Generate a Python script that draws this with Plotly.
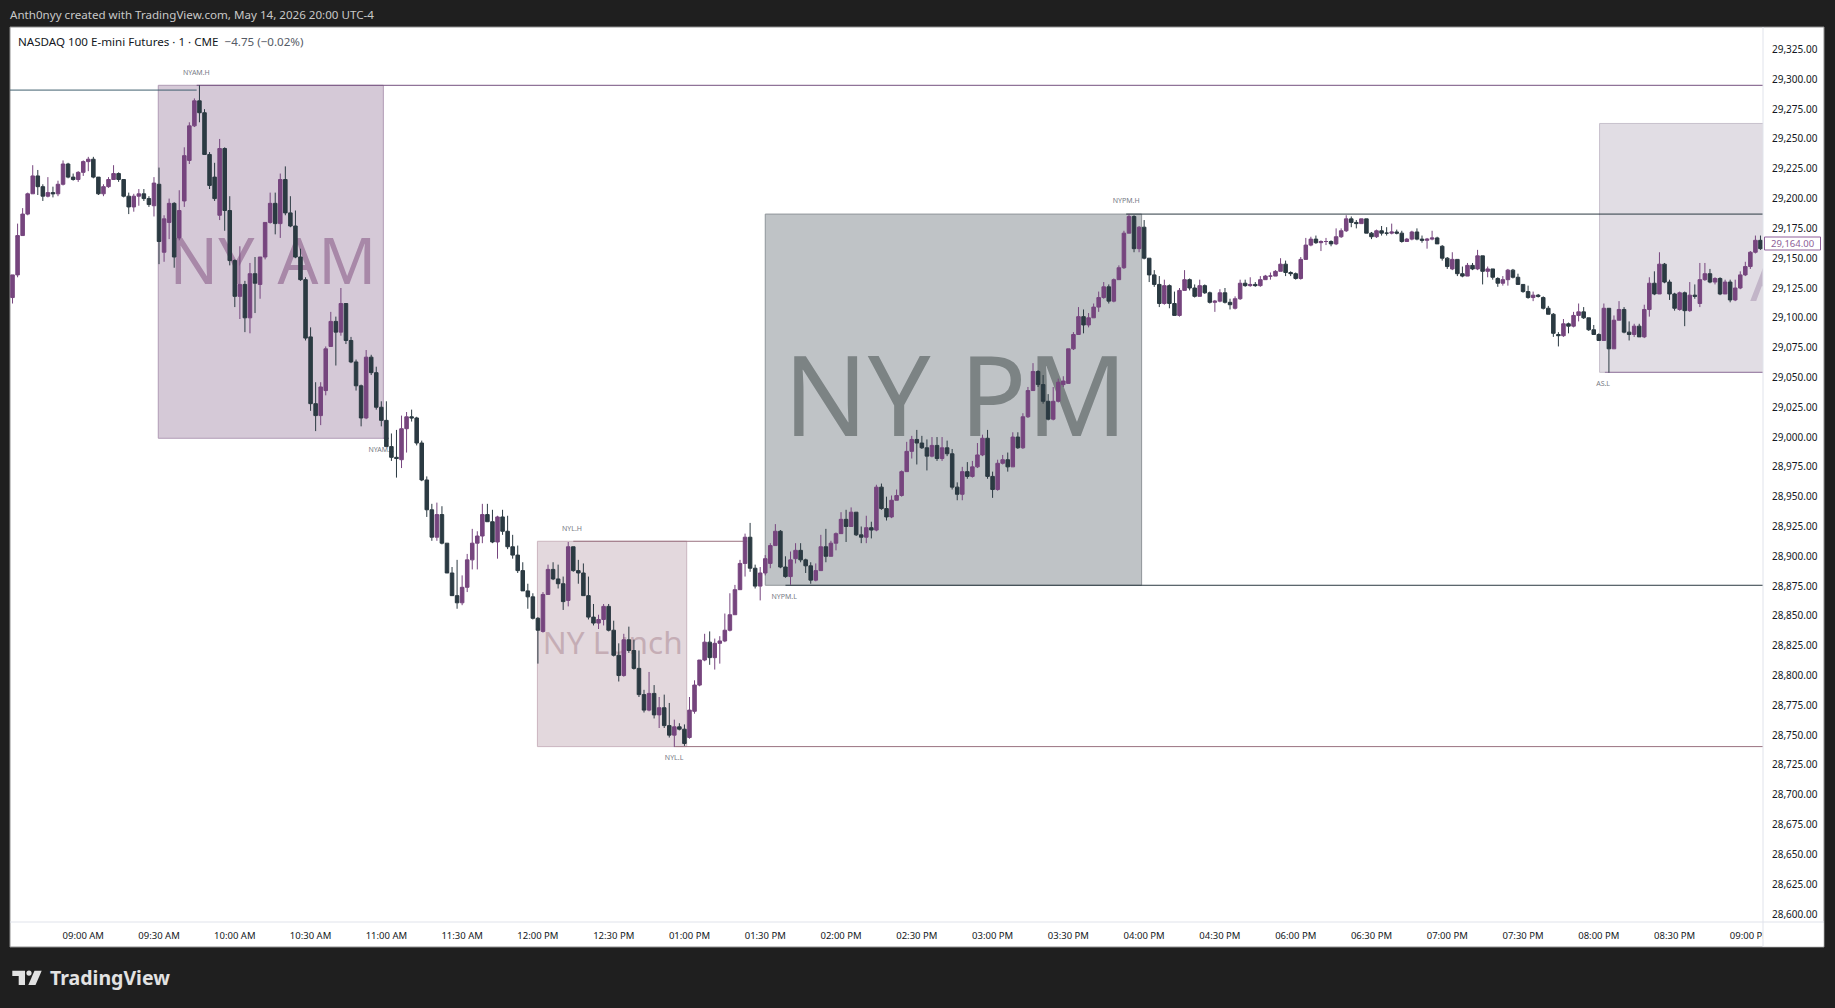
import plotly.graph_objects as go

# 2 minute bars (session slots, one slot = 1 minute)
opens = [
    29117,29136,29169,29187,29204,29219,29210,29202,29205,29204,
    29212,29229,29218,29216,29222,29231,29233,29218,29204,29210,
    29216,29221,29216,29202,29193,29202,29204,29200,29194,29212,
    29155,29180,29196,29167,29198,29232,29261,29282,29272,29237,
    29218,29186,29242,29190,29148,29118,29128,29100,29137,29128,
    29151,29180,29196,29179,29216,29188,29177,29151,29132,29084,
    29028,29018,29039,29076,29097,29088,29112,29081,29063,29043,
    29016,29067,29054,29025,29014,28992,28983,28981,29007,29017,
    29016,28995,28964,28939,28916,28935,28911,28886,28867,28861,
    28874,28897,28911,28917,28935,28929,28912,28933,28921,28908,
    28901,28888,28871,28866,28848,28837,28868,28889,28881,28877,
    28863,28908,28888,28886,28867,28849,28844,28847,28858,28838,
    28817,28800,28830,28821,28806,28784,28771,28785,28767,28773,
    28758,28750,28757,28755,28748,28770,28792,28813,28828,28815,
    28827,28829,28838,28851,28872,28894,28916,28890,28875,28886,
    28894,28909,28921,28891,28883,28898,28905,28897,28892,28880,
    28888,28908,28900,28911,28919,28931,28925,28937,28918,28916,
    28924,28922,28958,28940,28933,28947,28951,28971,28988,28998,
    28995,28991,28984,28993,28982,28991,28986,28958,28952,28971,
    28967,28975,28985,28999,28967,28956,28978,28981,28975,29000,
    28991,29017,29039,29055,29044,29030,29015,29030,29044,29045,
    29074,29086,29101,29094,29100,29109,29117,29126,29114,29132,
    29142,29171,29185,29158,29176,29150,29136,29128,29112,29127,
    29112,29102,29123,29132,29125,29118,29127,29121,29113,29114,
    29121,29113,29108,29116,29129,29127,29128,29127,29132,29135,
    29135,29139,29145,29138,29137,29133,29149,29161,29166,29163,
    29164,29164,29162,29168,29173,29183,29180,29179,29183,29171,
    29168,29173,29171,29171,29172,29171,29164,29166,29172,29166,
    29165,29166,29167,29160,29150,29141,29149,29137,29135,29144,
    29141,29152,29139,29141,29133,29129,29132,29140,29134,29128,
    29122,29117,29119,29117,29108,29103,29086,29085,29095,29093,
    29102,29105,29100,29090,29086,29081,29108,29074,29098,29107,
    29088,29086,29093,29084,29107,29129,29120,29145,29130,29120,
    29107,29121,29106,29119,29112,29132,29137,29130,29133,29120,
    29130,29115,29125,29136,29143,29155,29165,
]
highs = [
    29136,29179,29192,29205,29228,29224,29212,29218,29210,29215,
    29232,29230,29221,29223,29232,29235,29235,29218,29212,29218,
    29228,29222,29216,29205,29204,29208,29208,29202,29218,29226,
    29186,29200,29197,29207,29243,29264,29284,29295,29275,29239,
    29230,29250,29243,29202,29149,29160,29131,29146,29151,29151,
    29180,29205,29205,29221,29227,29202,29190,29158,29134,29092,
    29046,29046,29076,29105,29101,29125,29112,29084,29065,29044,
    29073,29069,29059,29030,29030,29003,29006,29018,29021,29023,
    29017,28997,28967,28944,28945,28942,28911,28891,28897,28884,
    28902,28923,28921,28944,28944,28939,28934,28939,28934,28918,
    28909,28895,28877,28869,28849,28870,28893,28895,28893,28883,
    28912,28908,28897,28894,28883,28860,28851,28860,28860,28846,
    28827,28835,28841,28830,28821,28788,28803,28792,28782,28784,
    28777,28763,28760,28759,28782,28796,28813,28835,28837,28831,
    28833,28852,28869,28876,28897,28919,28928,28893,28891,28901,
    28911,28927,28922,28900,28904,28911,28911,28898,28895,28894,
    28918,28923,28913,28920,28937,28939,28941,28937,28925,28934,
    28929,28960,28961,28950,28951,28956,28972,28996,29001,29006,
    29001,28998,29000,29000,29000,28997,28990,28962,28975,28979,
    28980,28995,29002,29006,28971,28981,28985,28987,29004,29004,
    29020,29042,29062,29056,29052,29036,29042,29049,29051,29074,
    29088,29109,29107,29104,29112,29122,29130,29128,29133,29144,
    29173,29187,29186,29177,29182,29150,29140,29135,29132,29128,
    29122,29125,29140,29133,29128,29132,29128,29122,29115,29124,
    29125,29116,29118,29132,29132,29134,29130,29135,29136,29138,
    29140,29150,29148,29139,29138,29151,29167,29168,29169,29165,
    29167,29165,29175,29175,29186,29185,29182,29183,29183,29172,
    29174,29177,29176,29179,29174,29173,29167,29173,29175,29169,
    29167,29173,29168,29161,29151,29155,29149,29143,29146,29146,
    29157,29152,29143,29141,29134,29135,29141,29141,29137,29128,
    29127,29122,29120,29118,29110,29104,29088,29099,29096,29105,
    29112,29109,29100,29094,29087,29112,29108,29102,29114,29109,
    29097,29095,29095,29111,29134,29139,29155,29146,29132,29121,
    29122,29122,29130,29128,29146,29146,29141,29134,29134,29132,
    29132,29132,29139,29147,29156,29169,29169,
]
lows = [
    29112,29134,29169,29186,29204,29203,29198,29201,29201,29202,
    29211,29217,29215,29214,29219,29223,29217,29203,29202,29209,
    29216,29214,29201,29187,29189,29194,29198,29193,29185,29145,
    29147,29166,29142,29165,29193,29229,29260,29264,29237,29208,
    29198,29182,29173,29144,29109,29099,29088,29087,29104,29116,
    29149,29179,29170,29167,29186,29176,29150,29131,29081,29022,
    29005,29010,29035,29076,29060,29085,29078,29062,29039,29009,
    29015,29052,29023,29009,28992,28980,28966,28974,28987,29013,
    28993,28963,28933,28913,28913,28910,28886,28867,28856,28859,
    28870,28889,28889,28911,28929,28911,28898,28918,28906,28898,
    28886,28871,28856,28847,28810,28836,28868,28880,28873,28855,
    28858,28887,28877,28867,28847,28842,28839,28842,28837,28816,
    28795,28799,28819,28805,28782,28769,28770,28764,28756,28756,
    28748,28740,28754,28741,28747,28768,28791,28812,28809,28805,
    28810,28828,28837,28851,28872,28883,28887,28873,28863,28884,
    28890,28909,28890,28882,28876,28894,28895,28886,28877,28879,
    28888,28895,28900,28905,28919,28912,28925,28917,28911,28911,
    28915,28921,28939,28930,28932,28947,28950,28971,28982,28977,
    28990,28972,28983,28980,28980,28984,28956,28947,28947,28965,
    28966,28974,28984,28965,28949,28955,28977,28971,28975,28990,
    28990,29016,29039,29042,29028,29014,29014,29029,29042,29045,
    29073,29086,29087,29092,29100,29105,29116,29112,29113,29132,
    29141,29171,29155,29155,29149,29130,29126,29109,29111,29108,
    29102,29101,29123,29123,29117,29118,29120,29112,29105,29113,
    29112,29107,29107,29115,29126,29126,29126,29126,29132,29132,
    29135,29139,29135,29135,29132,29132,29149,29160,29162,29156,
    29161,29160,29161,29167,29172,29176,29175,29179,29171,29166,
    29167,29169,29169,29170,29170,29163,29164,29165,29165,29163,
    29158,29165,29162,29148,29141,29140,29135,29134,29135,29140,
    29140,29128,29134,29132,29126,29127,29127,29133,29128,29121,
    29116,29114,29117,29107,29103,29084,29076,29084,29087,29092,
    29097,29099,29089,29086,29081,29081,29054,29074,29098,29087,
    29081,29084,29084,29083,29101,29119,29120,29129,29115,29106,
    29106,29093,29105,29116,29109,29131,29129,29128,29119,29120,
    29113,29114,29124,29135,29141,29154,29157,
]
closes = [
    29136,29169,29187,29204,29219,29210,29202,29205,29204,29212,
    29229,29218,29216,29222,29231,29233,29218,29204,29210,29216,
    29221,29216,29202,29193,29202,29204,29200,29195,29213,29164,
    29183,29196,29151,29190,29236,29261,29282,29272,29237,29211,
    29200,29242,29190,29148,29118,29128,29100,29137,29129,29151,
    29180,29196,29179,29216,29188,29177,29151,29132,29083,29028,
    29018,29042,29074,29097,29088,29112,29081,29063,29043,29016,
    29067,29054,29025,29014,28992,28983,28982,29007,29017,29016,
    28995,28964,28939,28916,28935,28911,28886,28867,28861,28874,
    28897,28911,28917,28935,28929,28912,28933,28921,28908,28901,
    28888,28871,28866,28848,28838,28868,28889,28881,28877,28862,
    28908,28888,28886,28867,28849,28844,28847,28858,28838,28817,
    28800,28830,28821,28806,28784,28771,28785,28767,28773,28758,
    28750,28757,28755,28743,28771,28792,28813,28828,28815,28827,
    28829,28838,28851,28872,28894,28916,28890,28875,28886,28898,
    28909,28921,28891,28883,28897,28905,28897,28892,28880,28888,
    28908,28900,28911,28919,28931,28925,28937,28918,28916,28924,
    28922,28958,28940,28933,28947,28951,28971,28988,28998,28995,
    28991,28984,28993,28982,28991,28986,28958,28952,28971,28967,
    28975,28985,28999,28967,28956,28978,28981,28975,29000,28991,
    29017,29039,29055,29044,29030,29015,29030,29046,29047,29074,
    29086,29101,29094,29100,29109,29117,29126,29114,29132,29142,
    29171,29185,29158,29176,29150,29136,29128,29112,29127,29112,
    29102,29123,29132,29125,29118,29127,29121,29113,29114,29121,
    29113,29111,29116,29129,29127,29128,29127,29132,29135,29135,
    29139,29145,29138,29137,29133,29149,29161,29166,29163,29164,
    29164,29162,29168,29173,29183,29180,29179,29183,29171,29168,
    29173,29171,29171,29172,29171,29164,29166,29172,29166,29165,
    29166,29167,29162,29150,29143,29149,29137,29135,29144,29141,
    29152,29139,29141,29134,29129,29132,29140,29134,29128,29122,
    29117,29119,29118,29108,29103,29087,29085,29095,29093,29102,
    29105,29100,29090,29086,29081,29108,29074,29098,29107,29088,
    29086,29093,29084,29107,29129,29120,29145,29130,29120,29108,
    29121,29106,29119,29118,29132,29137,29130,29133,29120,29130,
    29115,29125,29136,29143,29155,29165,29158,
]
bar_slots = list(range(1, 2 * len(closes) + 1, 2))

time_ticks = [29, 59, 89, 119, 149, 179, 209, 239, 269, 299, 329, 359, 389, 419, 449, 479,
              509, 539, 569, 599, 629, 659, 689]
time_labels = ["09:00 AM", "09:30 AM", "10:00 AM", "10:30 AM", "11:00 AM", "11:30 AM",
               "12:00 PM", "12:30 PM", "01:00 PM", "01:30 PM", "02:00 PM", "02:30 PM",
               "03:00 PM", "03:30 PM", "04:00 PM", "04:30 PM", "06:00 PM", "06:30 PM",
               "07:00 PM", "07:30 PM", "08:00 PM", "08:30 PM", "09:00 PM"]
price_ticks = list(range(28600, 29350, 25))

# session boxes
box_start = [58.7, 208.8, 299.0, 629.3]
box_end = [147.8, 267.9, 448.0, 700.0]
box_high = [29295, 28912.6, 29187, 29263]
box_low = [28999, 28740.4, 28875.7, 29054.3]
box_fill = ["#d5c9d7", "#e3d8dd", "#bfc3c6", "#e1dde4"]
box_edge = ["#b09bb5", "#cbb5bf", "#8f9599", "#c7c1cc"]

# big session names sitting behind the candles
# (hair space in NY AM undoes the tight Y-A kerning of this font)
name_text = ["NY\u200a AM", "NY Lunch", "NY PM", "AS"]
name_slot = [104.1, 238.6, 374.3, 689.0]
name_price = [29142, 28824.7, 29024, 29128]
name_size = [64, 31.5, 111, 65]
name_color = ["#a888a8", "#c5adb5", "#7c8384", "#c2b5c8"]
name_pos = ["middle center", "middle center", "middle center", "middle right"]

# session high / low lines
level_start = [0, 73.9, 441.9, 307, 223, 263.3, 631.4, 147.8]
level_end = [73.9, 694, 694, 694, 291.8, 694, 694, 150]
level_price = [29291, 29295, 29187, 28875.7, 28912.6, 28740.4, 29054.3, 28999]
level_color = ["#40606e", "#75517f", "#2b3a42", "#2b3a42", "#9a7280", "#9a7280", "#9578a0", "#75517f"]

tag_text = ["NYAM.H", "NYAM.L", "NYL.H", "NYL.L", "NYPM.L", "NYPM.H", "AS.L"]
tag_slot = [73.8, 146.9, 222.5, 262.9, 306.5, 441.9, 630.7]
tag_price = [29305.3, 28989.2, 28922.9, 28730.9, 28865.9, 29198, 29044.5]

W, H = 1835, 1008
LEFT, RIGHT, TOP, BOTTOM = 10, 1763, 27, 922
FONT = "Noto Sans"
x_range = [0, 694]
y_range = [28593.3, 29343.9]


def px(x):
    return (x - LEFT) / (RIGHT - LEFT)


def py(y):
    return (BOTTOM - y) / (BOTTOM - TOP)


fig = go.Figure()

# names go on the base axes so the overlaid candles are drawn over them
for i in range(len(name_text)):
    fig.add_trace(go.Scatter(
        x=[name_slot[i]], y=[name_price[i]], mode="text", text=[name_text[i]],
        textposition=name_pos[i], textfont=dict(family=FONT, size=name_size[i], color=name_color[i]),
        hoverinfo="skip", showlegend=False,
    ))
fig.add_trace(go.Scatter(
    x=tag_slot, y=tag_price, mode="text", text=tag_text, textposition="middle center",
    textfont=dict(family=FONT, size=7, color="#787b86"), hoverinfo="skip", showlegend=False,
))

fig.add_trace(go.Candlestick(
    x=bar_slots, open=opens, high=highs, low=lows, close=closes,
    xaxis="x2", yaxis="y2", showlegend=False, whiskerwidth=0,
    increasing=dict(line=dict(color="#76457e", width=1), fillcolor="#76457e"),
    decreasing=dict(line=dict(color="#2b3a42", width=1), fillcolor="#2b3a42"),
))

shapes = [
    # white chart panel with its thin border
    dict(type="rect", xref="paper", yref="paper", x0=px(10), x1=px(1824), y0=py(947), y1=py(27),
         fillcolor="white", line=dict(color="#8f8f8f", width=1), layer="below"),
]
for i in range(len(box_start)):
    shapes.append(dict(type="rect", xref="x", yref="y", x0=box_start[i], x1=box_end[i],
                       y0=box_low[i], y1=box_high[i], fillcolor=box_fill[i],
                       line=dict(color=box_edge[i], width=1), layer="below"))
for i in range(len(level_price)):
    shapes.append(dict(type="line", xref="x", yref="y", x0=level_start[i], x1=level_end[i],
                       y0=level_price[i], y1=level_price[i],
                       line=dict(color=level_color[i], width=1), layer="below"))

# cut the last time label at the price scale, then the scale dividers
shapes += [
    dict(type="rect", xref="paper", yref="paper", x0=px(1763), x1=px(1823.5), y0=py(946.5), y1=py(923),
         fillcolor="white", line=dict(width=0), layer="above"),
    dict(type="line", xref="paper", yref="paper", x0=px(1763), x1=px(1763), y0=py(947), y1=py(27),
         line=dict(color="#e0e3eb", width=1), layer="above"),
    dict(type="line", xref="paper", yref="paper", x0=px(10), x1=px(1824), y0=py(922), y1=py(922),
         line=dict(color="#e0e3eb", width=1), layer="above"),
    # last price tag
    dict(type="rect", xref="paper", yref="paper", x0=px(1764.5), x1=px(1820.5), y0=py(250), y1=py(237),
         fillcolor="white", line=dict(color="#8d5f99", width=1), layer="above"),
    # logo
    dict(type="path", xref="paper", yref="paper", layer="above", fillcolor="#e2e2e2", line=dict(width=0),
         path=f"M{px(12.3)},{py(970.7)} L{px(25)},{py(970.7)} L{px(25)},{py(985)} L{px(18.7)},{py(985)} "
              f"L{px(18.7)},{py(976)} L{px(12.3)},{py(976)} Z"),
    dict(type="circle", xref="paper", yref="paper", layer="above", fillcolor="#e2e2e2", line=dict(width=0),
         x0=px(26.4), x1=px(31.6), y0=py(975.7), y1=py(970.5)),
    dict(type="path", xref="paper", yref="paper", layer="above", fillcolor="#e2e2e2", line=dict(width=0),
         path=f"M{px(34.5)},{py(970.7)} L{px(41.7)},{py(970.7)} L{px(35.5)},{py(985)} L{px(28.3)},{py(985)} Z"),
]

annotations = [
    dict(text="Anth0nyy created with TradingView.com, May 14, 2026 20:00 UTC-4", x=px(8), y=py(14.5),
         font=dict(family=FONT, size=11.6, color="#c8c8c8")),
    dict(text="NASDAQ 100 E-mini Futures · 1 · CME  <span style='color:#555b66'>−4.75 (−0.02%)</span>",
         x=px(16), y=py(41.5), font=dict(family=FONT, size=11.6, color="#131722")),
    dict(text="<b>TradingView</b>", x=px(48), y=py(977), font=dict(family=FONT, size=19.5, color="#e2e2e2")),
    dict(text="29,164.00", x=px(1792.5), y=py(243.5), xanchor="center", borderpad=0,
         font=dict(family=FONT, size=9.5, color="#8d5f99")),
]
for a in annotations:
    a.update(xref="paper", yref="paper", showarrow=False)
    a.setdefault("xanchor", "left")
    a.update(yanchor="middle")

fig.update_layout(
    width=W, height=H, autosize=False,
    margin=dict(l=LEFT, r=W - RIGHT, t=TOP, b=H - BOTTOM, pad=0),
    paper_bgcolor="#1f1f1f", plot_bgcolor="rgba(0,0,0,0)", boxgap=0,
    showlegend=False, shapes=shapes, annotations=annotations, hovermode=False,
    xaxis=dict(range=x_range, tickmode="array", tickvals=time_ticks, ticktext=time_labels,
               showgrid=False, zeroline=False, showline=False, ticks="outside", ticklen=5,
               tickcolor="rgba(0,0,0,0)", tickangle=0, tickfont=dict(family=FONT, size=9.5, color="#131722")),
    yaxis=dict(range=y_range, side="right", tickmode="array", tickvals=price_ticks,
               ticktext=[f"{p:,.2f}" for p in price_ticks], showgrid=False, zeroline=False,
               showline=False, ticks="outside", ticklen=6, tickcolor="rgba(0,0,0,0)",
               tickfont=dict(family=FONT, size=10, color="#131722")),
    xaxis2=dict(range=x_range, overlaying="x", visible=False, rangeslider=dict(visible=False)),
    yaxis2=dict(range=y_range, overlaying="y", side="right", visible=False),
)

fig.write_html("out.html", config=dict(displayModeBar=False),
               post_script="document.body.style.margin='0';document.body.style.background='#1f1f1f';")
